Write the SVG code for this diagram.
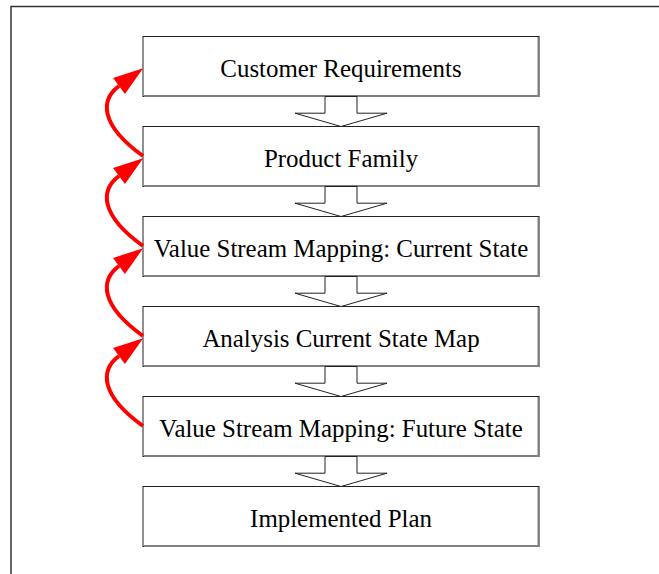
<svg xmlns="http://www.w3.org/2000/svg" width="659" height="574" viewBox="0 0 659 574">
<style>
.box{fill:#fff;stroke:#222;stroke-width:1}
.shade{fill:none;stroke:#808080;stroke-width:2}
.lbl{font-family:"Liberation Serif","Times New Roman",serif;font-size:24.9px;fill:#000;text-anchor:middle}
.blk{fill:#fff;stroke:#222;stroke-width:1;stroke-linejoin:miter}
.fb{fill:none;stroke:#ff0000;stroke-width:4;marker-end:url(#rh)}
.frame{fill:none;stroke:#333;stroke-width:1.5}
</style>
<defs>
<marker id="rh" markerUnits="userSpaceOnUse" viewBox="0 -10 30 20" refX="0" refY="0" markerWidth="30" markerHeight="20" orient="auto" overflow="visible">
<path d="M0,-10 L30,0 L0,10 Z" fill="#ff0000"/>
</marker>
<g id="blockArrow"><polygon class="blk" points="325,96 357,96 357,112.7 387,112.7 341,126 295,112.7 325,112.7"/></g>
</defs>
<polyline class="frame" points="11,574 11,6.5 659,6.5"/>
<g id="n1"><rect class="box" x="143" y="36.5" width="396" height="60"/><polyline class="shade" points="538.5,37 538.5,96 144,96"/><text class="lbl" x="341" y="76.5">Customer Requirements</text></g>
<g id="n2"><rect class="box" x="143" y="126.5" width="396" height="60"/><polyline class="shade" points="538.5,127 538.5,186 144,186"/><text class="lbl" x="341" y="166.5">Product Family</text></g>
<g id="n3"><rect class="box" x="143" y="216.5" width="396" height="60"/><polyline class="shade" points="538.5,217 538.5,276 144,276"/><text class="lbl" x="341" y="256.5">Value Stream Mapping: Current State</text></g>
<g id="n4"><rect class="box" x="143" y="306.5" width="396" height="60"/><polyline class="shade" points="538.5,307 538.5,366 144,366"/><text class="lbl" x="341" y="346.5">Analysis Current State Map</text></g>
<g id="n5"><rect class="box" x="143" y="396.5" width="396" height="60"/><polyline class="shade" points="538.5,397 538.5,456 144,456"/><text class="lbl" x="341" y="436.5">Value Stream Mapping: Future State</text></g>
<g id="n6"><rect class="box" x="143" y="486.5" width="396" height="60"/><polyline class="shade" points="538.5,487 538.5,546 144,546"/><text class="lbl" x="341" y="526.5">Implemented Plan</text></g>
<g id="connectors">
<use href="#blockArrow" transform="translate(0,0.5)"/>
<use href="#blockArrow" transform="translate(0,90.5)"/>
<use href="#blockArrow" transform="translate(0,180.5)"/>
<use href="#blockArrow" transform="translate(0,270.5)"/>
<use href="#blockArrow" transform="translate(0,360.5)"/>
<path class="fb" d="M143,156 C100,125 100,100 119,86"/>
<path class="fb" d="M143,246 C100,215 100,190 119,176"/>
<path class="fb" d="M143,336 C100,305 100,280 119,266"/>
<path class="fb" d="M143,426 C100,395 100,370 119,356"/>
</g>
</svg>
